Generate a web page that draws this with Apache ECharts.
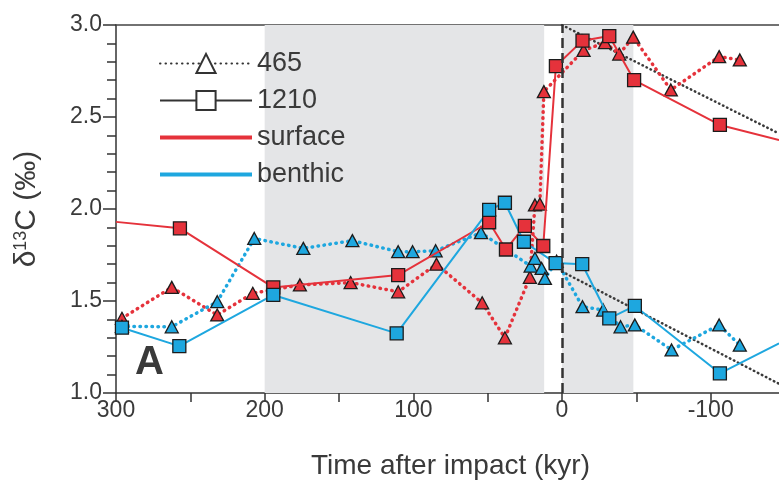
<!DOCTYPE html>
<html><head><meta charset="utf-8">
<script src="https://cdn.jsdelivr.net/npm/echarts@6/dist/echarts.min.js"></script>
<style>html,body{margin:0;padding:0;background:#fff}#c{width:779px;height:483px}</style>
</head><body><div id="c"></div>
<script>
// ---- data (x = time after impact, kyr; y = d13C permil) ----
const site465Surface = [[296,1.406],[262.5,1.574],[231.9,1.424],[208,1.542],[176.3,1.587],[142.2,1.60],[110.2,1.55],[84.4,1.70],[53.7,1.49],[38.4,1.30],[21.6,1.629],[18.2,2.022],[14.9,2.027],[12.2,2.638],[-14.5,2.862],[-28.9,2.904],[-38.5,2.842],[-47.9,2.934],[-73.2,2.647],[-105.7,2.828],[-119.6,2.81]];
const site465Benthic = [[296,1.362],[262.5,1.36],[231.9,1.496],[207,1.84],[174,1.786],[141,1.828],[110.2,1.768],[100.5,1.768],[85,1.773],[54.5,1.871],[21.1,1.69],[18.2,1.732],[13.7,1.677],[11.5,1.623],[3.6,1.716],[-13.8,1.469],[-27.7,1.451],[-39.4,1.36],[-49,1.37],[-73.7,1.234],[-105.7,1.37],[-119.6,1.26]];
const site1210Surface = [[300,1.93],[257,1.895],[194.2,1.574],[110.2,1.641],[49,1.928],[37.7,1.78],[25,1.908],[12.6,1.799],[4.1,2.777],[-13.8,2.915],[-31.8,2.94],[-48.5,2.70],[-106.2,2.457],[-146,2.375]];
const site1210Benthic = [[296,1.355],[257.4,1.255],[194.2,1.533],[111.2,1.324],[49,1.995],[38.4,2.034],[25.6,1.822],[4.3,1.706],[-13.6,1.70],[-31.8,1.406],[-49,1.473],[-106.2,1.107],[-146,1.27]];
const trendUpper = [[0,3.0],[-146,2.41]];
const trendLower = [[0,1.66],[-146,1.05]];
const shadedBands = [[200,12],[0,-48]];
const impactTime = 0;
const xLabelValues = [300,200,100,0,-100];
const yLabelValues = [1.0,1.5,2.0,2.5,3.0];
const legendNames = ['465','1210','surface','benthic'];

const RED = '#e5323b', BLUE = '#1ea7df', INK = '#333333', EDGE = '#1c1c1c', TXT = '#3a3a3a';
const FONT = 'Liberation Sans, Arial, sans-serif';

// points at the plot edge are line continuations, drawn without a marker
function withEdges(arr){
  return arr.map(p => (p[0] >= 300 || p[0] <= -146) ? {value:p, symbol:'none'} : {value:p});
}
const dotted = (color,w) => ({color, width:w, type:[0.5,5.5], cap:'round'});

const chart = echarts.init(document.getElementById('c'), null, {renderer:'canvas'});
chart.setOption({
  animation:false,
  backgroundColor:'#fff',
  title:{text:'A', left:135, top:343, padding:0, textStyle:{fontSize:40, fontWeight:'bold', color:TXT, fontFamily:FONT}},
  grid:{left:116, right:-6, top:25, bottom:90, containLabel:false, outerBoundsMode:'none'},
  legend:{
    data:[
      {name:legendNames[0]},
      {name:legendNames[1]},
      {name:legendNames[2], itemStyle:{opacity:0}, lineStyle:{width:4}},
      {name:legendNames[3], itemStyle:{opacity:0}, lineStyle:{width:4}}
    ],
    left:153, top:45, orient:'vertical', itemWidth:92, itemHeight:24, itemGap:10,
    selectedMode:false,
    textStyle:{fontSize:27, color:TXT, fontFamily:FONT, padding:[0,0,0,0]}
  },
  xAxis:[{
    type:'value', min:-150, max:300, interval:50, inverse:true,
    axisLine:{show:true, onZero:false, lineStyle:{color:INK, width:1.5}},
    axisTick:{show:true, length:9, inside:false, lineStyle:{color:INK, width:1.5}},
    splitLine:{show:false},
    axisLabel:{margin:6, fontSize:23, color:TXT, fontFamily:FONT,
      formatter:v => xLabelValues.indexOf(v) >= 0 ? String(v) : ''},
    name:'Time after impact (kyr)', nameLocation:'middle', nameGap:59,
    nameTextStyle:{fontSize:28, color:TXT, fontFamily:FONT}
  },{
    type:'value', min:-150, max:300, inverse:true, position:'top',
    axisLine:{show:true, onZero:false, lineStyle:{color:'#444', width:1.5}},
    axisTick:{show:false}, axisLabel:{show:false}, splitLine:{show:false}
  }],
  yAxis:{
    type:'value', min:1.0, max:3.0, interval:0.5,
    axisLine:{show:true, onZero:false, lineStyle:{color:INK, width:1.5}},
    axisTick:{show:true, length:13, lineStyle:{color:INK, width:1.5}},
    minorTick:{show:true, splitNumber:5, length:9, lineStyle:{color:INK, width:1.5}},
    splitLine:{show:false},
    axisLabel:{margin:14, fontSize:23, color:TXT, fontFamily:FONT,
      formatter:v => yLabelValues.some(t => Math.abs(t - v) < 1e-9) ? v.toFixed(1) : ''},
    name:'{d|δ}{s|13}{d|C (‰)}', nameLocation:'middle', nameGap:74, nameRotate:90,
    nameTextStyle:{fontSize:30, color:TXT, fontFamily:FONT,
      rich:{d:{fontSize:30, fontFamily:FONT, color:TXT}, s:{fontSize:18, fontFamily:FONT, color:TXT, padding:[0,0,12,0]}}}
  },
  series:[
    {name:'bands', type:'line', data:[], z:1, silent:true,
     markArea:{silent:true, itemStyle:{color:'#e4e5e7'}, data:shadedBands.map(b => [{xAxis:b[0]},{xAxis:b[1]}])},
     markLine:{silent:true, symbol:'none', label:{show:false},
       lineStyle:{color:INK, width:2.5, type:[10,5]}, data:[{xAxis:impactTime}]}},
    {name:'trend upper', type:'line', data:trendUpper, symbol:'none', z:2, lineStyle:{color:'#3a3a3a', width:2.5, type:[0.5,4], cap:'round'}},
    {name:'trend lower', type:'line', data:trendLower, symbol:'none', z:2, lineStyle:{color:'#3a3a3a', width:2.5, type:[0.5,4], cap:'round'}},
    {name:'465 surface', type:'line', data:site465Surface, z:3, symbol:'triangle', symbolSize:[13,12],
     lineStyle:dotted(RED,3.5), itemStyle:{color:RED, borderColor:EDGE, borderWidth:1.3}},
    {name:'465 benthic', type:'line', data:site465Benthic, z:3, symbol:'triangle', symbolSize:[13,12],
     lineStyle:dotted(BLUE,3.5), itemStyle:{color:BLUE, borderColor:EDGE, borderWidth:1.3}},
    {name:'1210 surface', type:'line', data:withEdges(site1210Surface), z:4, symbol:'rect', symbolSize:13,
     lineStyle:{color:RED, width:2}, itemStyle:{color:RED, borderColor:EDGE, borderWidth:1.3}},
    {name:'1210 benthic', type:'line', data:withEdges(site1210Benthic), z:4, symbol:'rect', symbolSize:13,
     lineStyle:{color:BLUE, width:2}, itemStyle:{color:BLUE, borderColor:EDGE, borderWidth:1.3}},
    // legend-only series
    {name:legendNames[0], type:'line', data:[], symbol:'triangle', lineStyle:{color:INK, width:3, type:[0.5,5], cap:'round'}, itemStyle:{color:'#fff', borderColor:INK, borderWidth:2}},
    {name:legendNames[1], type:'line', data:[], symbol:'rect', lineStyle:{color:INK, width:2}, itemStyle:{color:'#fff', borderColor:INK, borderWidth:2}},
    {name:legendNames[2], type:'line', data:[], symbol:'none', lineStyle:{color:RED, width:4}, itemStyle:{color:RED}},
    {name:legendNames[3], type:'line', data:[], symbol:'none', lineStyle:{color:BLUE, width:4}, itemStyle:{color:BLUE}}
  ]
});
</script></body></html>
